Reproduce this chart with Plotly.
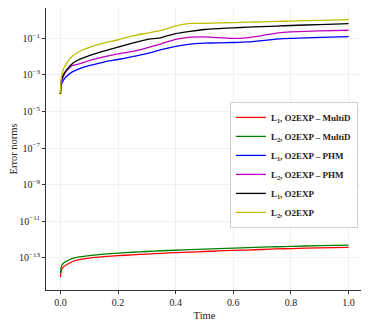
import numpy as np
import plotly.graph_objects as go

# time samples (denser near t=0 where the curves rise steeply)
TIME = [0.0, 0.003, 0.01, 0.02, 0.04, 0.06, 0.1, 0.15, 0.2, 0.25, 0.3, 0.35,
        0.4, 0.45, 0.5, 0.55, 0.6, 0.65, 0.7, 0.75, 0.8, 0.9, 1.0]

# log10 of the error norms
L1_MULTID = [-14.07, -13.70, -13.50, -13.40, -13.22, -13.12, -13.02, -12.94, -12.89, -12.84, -12.80, -12.76,
             -12.72, -12.69, -12.66, -12.63, -12.60, -12.58, -12.55, -12.52, -12.50, -12.46, -12.43]
L2_MULTID = [-13.85, -13.50, -13.30, -13.20, -13.05, -12.97, -12.88, -12.80, -12.75, -12.70, -12.66, -12.62,
             -12.59, -12.56, -12.53, -12.50, -12.47, -12.45, -12.42, -12.40, -12.38, -12.34, -12.31]
L1_PHM = [-4.05, -3.55, -3.30, -3.10, -2.85, -2.70, -2.50, -2.30, -2.16, -2.00, -1.84, -1.62,
          -1.44, -1.32, -1.27, -1.25, -1.23, -1.20, -1.13, -1.05, -1.00, -0.95, -0.91]
L2_PHM = [-4.05, -3.40, -3.10, -2.80, -2.50, -2.42, -2.22, -2.02, -1.85, -1.72, -1.52, -1.30,
          -1.06, -0.94, -0.92, -0.96, -1.01, -0.96, -0.85, -0.72, -0.65, -0.60, -0.56]
L1_O2EXP = [-4.05, -3.30, -3.00, -2.75, -2.40, -2.20, -1.95, -1.70, -1.48, -1.26, -1.07, -0.96,
            -0.74, -0.62, -0.52, -0.47, -0.43, -0.39, -0.36, -0.33, -0.30, -0.25, -0.20]
L2_O2EXP = [-4.00, -3.20, -2.70, -2.40, -2.00, -1.78, -1.50, -1.27, -1.08, -0.87, -0.72, -0.57,
            -0.32, -0.19, -0.18, -0.16, -0.14, -0.12, -0.10, -0.08, -0.06, -0.02, 0.02]

SERIES = [
    ("<b>L<sub>1</sub>, O2EXP – MultiD</b>", L1_MULTID, "#ff0000"),
    ("<b>L<sub>2</sub>, O2EXP – MultiD</b>", L2_MULTID, "#008000"),
    ("<b>L<sub>1</sub>, O2EXP – PHM</b>", L1_PHM, "#0000ff"),
    ("<b>L<sub>2</sub>, O2EXP – PHM</b>", L2_PHM, "#bf00bf"),
    ("<b>L<sub>1</sub>, O2EXP</b>", L1_O2EXP, "#000000"),
    ("<b>L<sub>2</sub>, O2EXP</b>", L2_O2EXP, "#bfbf00"),
]

Y_TICKS = [-13, -11, -9, -7, -5, -3, -1]
X_TICKS = [0.0, 0.2, 0.4, 0.6, 0.8, 1.0]

FONT = "Liberation Serif"

fig = go.Figure()
for name, logs, color in SERIES:
    fig.add_trace(go.Scatter(
        x=TIME,
        y=10.0 ** np.asarray(logs),
        mode="lines",
        name=name,
        line=dict(color=color, width=1.3, shape="spline", smoothing=0.4),
    ))

# the page body keeps its 8px default margin, so the figure is 8px smaller
fig.update_layout(
    width=361,
    height=321,
    margin=dict(l=38, r=6, t=0, b=39, autoexpand=False),
    paper_bgcolor="white",
    plot_bgcolor="white",
    font=dict(family=FONT, size=10, color="#222"),
    showlegend=True,
    legend=dict(
        x=0.984, y=0.667, xanchor="right", yanchor="top",
        bgcolor="rgba(255,255,255,0.9)",
        bordercolor="#d0d0d0", borderwidth=1,
        font=dict(family=FONT, size=9, color="#222"),
        tracegroupgap=0, itemwidth=30,
    ),
)
fig.update_xaxes(
    range=[-0.05, 1.05],
    tickvals=X_TICKS,
    ticktext=[f"{v:.1f}" for v in X_TICKS],
    ticks="outside", ticklen=3, tickcolor="#333",
    showline=True, linecolor="#333", linewidth=1, mirror=True,
    showgrid=True, gridcolor="#f0f0f0", gridwidth=0.6,
    zeroline=False, automargin=False,
    title=dict(text="Time", font=dict(size=10.5), standoff=4),
)
fig.update_yaxes(
    type="log",
    range=[-14.765, 0.656],
    tickvals=[10.0 ** v for v in Y_TICKS],
    ticktext=[f"10<sup>−{abs(v)}</sup>" for v in Y_TICKS],
    ticks="outside", ticklen=3, tickcolor="#333",
    showline=True, linecolor="#333", linewidth=1, mirror=True,
    showgrid=True, gridcolor="#f0f0f0", gridwidth=0.6,
    zeroline=False, automargin=False,
    title=dict(text="Error norms", font=dict(size=10.5), standoff=4),
)

fig.write_html("out.html")
